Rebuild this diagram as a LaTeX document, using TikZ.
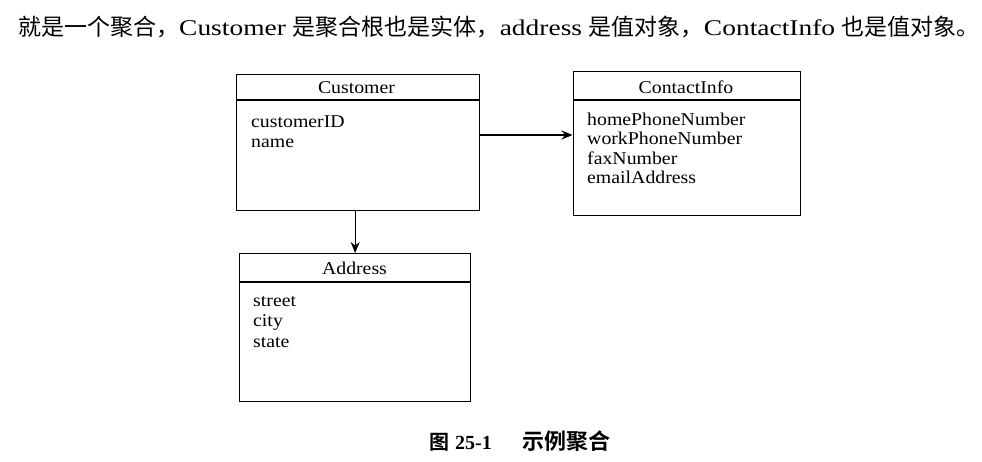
\documentclass[tikz,border=0pt]{standalone}
\usepackage{fontspec}
\setmainfont{Liberation Serif}
\newfontfamily\topfont[FakeStretch=1.22]{Liberation Serif}
\newfontfamily\boxfont[FakeStretch=1.1]{Liberation Serif}
\newfontfamily\cjk[BoldFont={Noto Sans CJK SC Bold}]{Noto Sans CJK SC}
\usetikzlibrary{arrows.meta}
\newcommand{\zh}[1]{{\cjk\fontsize{23}{26}\selectfont #1}}
\begin{document}
\begin{tikzpicture}[x=1pt,y=-1pt,
  umlbox/.style={draw, line width=1.3pt, inner sep=0pt, anchor=north west},
  boxtxt/.style={anchor=base west, inner sep=0pt, font=\boxfont\fontsize{18}{20}\selectfont},
  headtxt/.style={anchor=base, inner sep=0pt, font=\boxfont\fontsize{18}{20}\selectfont},
  arr/.style={line width=1.2pt, -{Stealth[length=11pt,width=9pt]}},
  divline/.style={line width=1.2pt}]
\useasboundingbox (0,0) rectangle (982,461);
% top line
\node[anchor=base west, inner sep=0pt, font=\topfont\fontsize{22.5}{24}\selectfont] (top) at (18,35)
  {\zh{就是一个聚合，}Customer \zh{是聚合根也是实体，}address \zh{是值对象，}ContactInfo \zh{也是值对象。}};
% boxes
\node[umlbox, minimum width=243pt, minimum height=136pt] (cust) at (235.5,74) {};
\node[umlbox, minimum width=227pt, minimum height=144pt] (contact) at (572.5,71) {};
\node[umlbox, minimum width=231pt, minimum height=148pt] (addr) at (239,253) {};
% header dividers
\draw[divline] ([yshift=-26pt]cust.north west) -- ([yshift=-26pt]cust.north east);
\draw[divline] ([yshift=-29pt]contact.north west) -- ([yshift=-29pt]contact.north east);
\draw[divline] ([yshift=-29pt]addr.north west) -- ([yshift=-29pt]addr.north east);
% headers
\node[headtxt] (custh) at (356.5,93) {Customer};
\node[headtxt] (contacth) at (686,93) {ContactInfo};
\node[headtxt] (addrh) at (354.5,274) {Address};
% attributes
\node[boxtxt] (c1) at (251,127) {customerID};
\node[boxtxt] (c2) at (251,147) {name};
\node[boxtxt] (k1) at (587,125) {homePhoneNumber};
\node[boxtxt] (k2) at (587,144.5) {workPhoneNumber};
\node[boxtxt] (k3) at (587,164) {faxNumber};
\node[boxtxt] (k4) at (587,183.5) {emailAddress};
\node[boxtxt] (a1) at (253,306) {street};
\node[boxtxt] (a2) at (253,326.5) {city};
\node[boxtxt] (a3) at (253,347) {state};
% connectors
\coordinate (ay) at (0,135);
\draw[arr] (cust.east |- ay) -- (contact.west |- ay);
\draw[arr] (addr.north |- cust.south) -- (addr.north);
% caption
\node[anchor=base west, inner sep=0pt, font=\cjk\bfseries\fontsize{20}{24}\selectfont] (cap1) at (429,449) {图};
\node[anchor=base west, inner sep=0pt, font=\bfseries\fontsize{20}{24}\selectfont] (cap2) at (455,449) {25-1};
\node[anchor=base west, inner sep=0pt, font=\cjk\bfseries\fontsize{22}{24}\selectfont] (cap3) at (522,449) {示例聚合};
\end{tikzpicture}
\end{document}
